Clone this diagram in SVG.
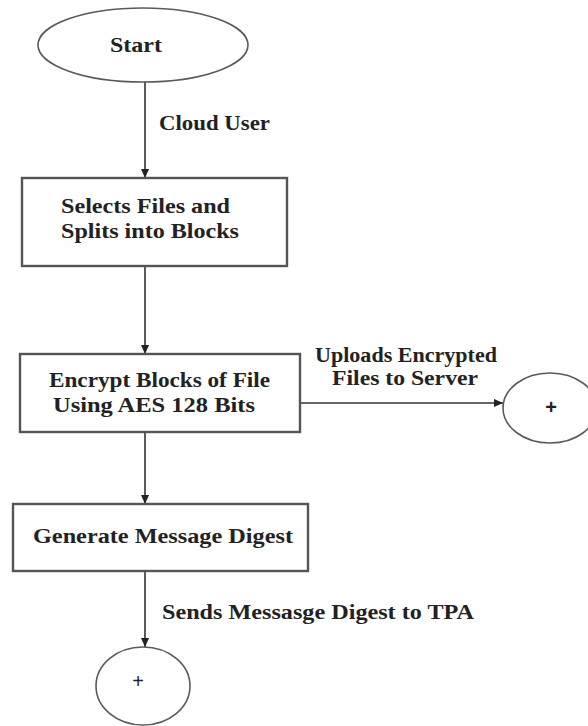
<svg xmlns="http://www.w3.org/2000/svg" width="588" height="726" viewBox="0 0 588 726">
<style>
.bg{fill:#ffffff}
.box{fill:#ffffff;stroke:#555555;stroke-width:2.4}
.term{fill:#ffffff;stroke:#5a5a5a;stroke-width:1.6}
.t{font-family:"Liberation Serif","Times New Roman",serif;font-weight:bold;font-size:21px;fill:#222222}
.s{font-size:20px}
.plus{font-family:"Liberation Sans",Arial,sans-serif;font-size:20px;fill:#222222;text-anchor:middle}
.edge{fill:none;stroke:#333333;stroke-width:1.6}
</style>
<defs>
<marker id="arr" viewBox="0 0 10 10" refX="10" refY="5" markerWidth="9" markerHeight="9" markerUnits="userSpaceOnUse" orient="auto">
<path d="M0,0.5 L10,5 L0,9.5 z" fill="#222222"/>
</marker>
</defs>
<rect class="bg" x="0" y="0" width="588" height="726"/>
<g id="connectors">
<line class="edge" x1="145" y1="82" x2="145" y2="178" marker-end="url(#arr)"/>
<line class="edge" x1="145" y1="266" x2="145" y2="354" marker-end="url(#arr)"/>
<line class="edge" x1="300" y1="403" x2="503" y2="403" marker-end="url(#arr)"/>
<line class="edge" x1="145" y1="432" x2="145" y2="504" marker-end="url(#arr)"/>
<line class="edge" x1="145" y1="571" x2="145" y2="647" marker-end="url(#arr)"/>
<text class="t" x="159" y="130" textLength="111" lengthAdjust="spacingAndGlyphs">Cloud User</text>
<text class="t s" x="315" y="362" textLength="182" lengthAdjust="spacingAndGlyphs">Uploads Encrypted</text>
<text class="t s" x="332" y="385" textLength="146" lengthAdjust="spacingAndGlyphs">Files to Server</text>
<text class="t" x="162" y="619" textLength="312" lengthAdjust="spacingAndGlyphs">Sends Messasge Digest to TPA</text>
</g>
<g id="start">
<ellipse class="term" cx="143" cy="45" rx="105" ry="37"/>
<text class="t" x="110" y="52" textLength="52" lengthAdjust="spacingAndGlyphs">Start</text>
</g>
<g id="select">
<rect class="box" x="22" y="178" width="265" height="88"/>
<text class="t" x="61" y="213" textLength="169" lengthAdjust="spacingAndGlyphs">Selects Files and</text>
<text class="t" x="61" y="238" textLength="178" lengthAdjust="spacingAndGlyphs">Splits into Blocks</text>
</g>
<g id="encrypt">
<rect class="box" x="20" y="354" width="280" height="78"/>
<text class="t" x="49" y="387" textLength="221" lengthAdjust="spacingAndGlyphs">Encrypt Blocks of File</text>
<text class="t" x="53" y="412" textLength="202" lengthAdjust="spacingAndGlyphs">Using AES 128 Bits</text>
</g>
<g id="connector-right">
<ellipse class="term" cx="550" cy="408" rx="47" ry="35"/>
<text class="plus" x="551" y="414" font-weight="bold">+</text>
</g>
<g id="digest">
<rect class="box" x="13" y="504" width="295" height="67"/>
<text class="t" x="33" y="543" textLength="260" lengthAdjust="spacingAndGlyphs">Generate Message Digest</text>
</g>
<g id="connector-bottom">
<ellipse class="term" cx="143" cy="686" rx="47" ry="39"/>
<text class="plus" x="138" y="688">+</text>
</g>
</svg>
